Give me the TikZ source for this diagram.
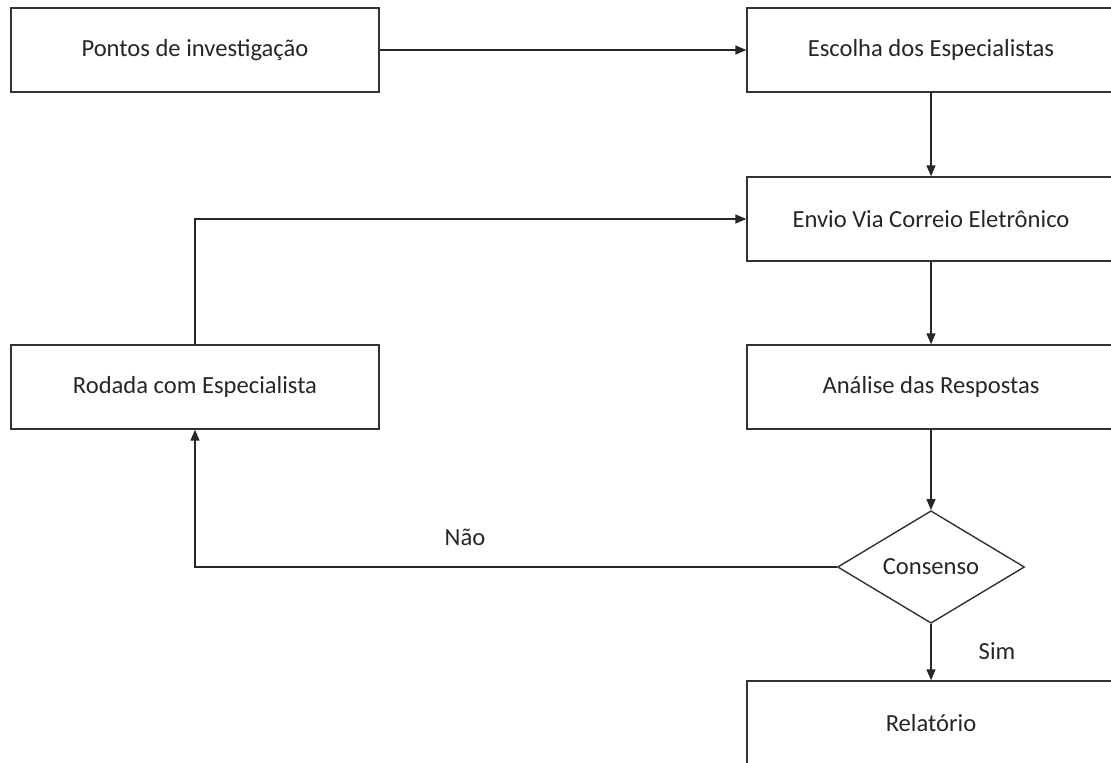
\documentclass[tikz,border=0pt]{standalone}
\usepackage{fontspec}
\setmainfont{Carlito}
\usetikzlibrary{arrows.meta, shapes.geometric}

\begin{document}
\begin{tikzpicture}[x=0.02cm, y=-0.02cm,
	box/.style={draw=black!80, line width=0.8pt, rectangle, minimum width=7.36cm, minimum height=1.68cm, font=\fontsize{14}{16}\selectfont, text=black!85},
	decisao/.style={draw=black!80, line width=0.8pt, diamond, minimum width=3.74cm, minimum height=2.12cm, inner sep=0pt, font=\fontsize{14}{16}\selectfont, text=black!85},
	rotulo/.style={font=\fontsize{14}{16}\selectfont, text=black!85},
	seta/.style={draw=black!85, line width=0.8pt, -{Triangle[length=2.2mm, width=1.8mm]}}]
	% Page size of the reference (1111 x 763 px)
	\useasboundingbox (0,0) rectangle (1111,763);
	\clip (0,0) rectangle (1111,763);
	
	% Left column
	\node[box] (pontos) at (195,50) {Pontos de investigação};
	\node[box] (rodada) at (195,387) {Rodada com Especialista};
	
	% Right column
	\node[box] (escolha) at (931,50) {Escolha dos Especialistas};
	\node[box] (envio) at (931,219) {Envio Via Correio Eletrônico};
	\node[box] (analise) at (931,387) {Análise das Respostas};
	\node[decisao] (consenso) at (931,567) {Consenso};
	\node[box] (relatorio) at (931,723) {Relatório};
	
	% Labels of the decision
	\node[rotulo] (nao) at (465,537) {Não};
	\node[rotulo] (sim) at (997,651) {Sim};
	
	% Connectors
	\draw[seta] (pontos) -- (escolha);
	\draw[seta] (escolha) -- (envio);
	\draw[seta] (envio) -- (analise);
	\draw[seta] (analise) -- (consenso);
	\draw[seta] (consenso) -- (relatorio);
	\draw[seta] (consenso.west) -| (rodada.south);
	\draw[seta] (rodada.north) |- (envio.west);
\end{tikzpicture}
\end{document}
